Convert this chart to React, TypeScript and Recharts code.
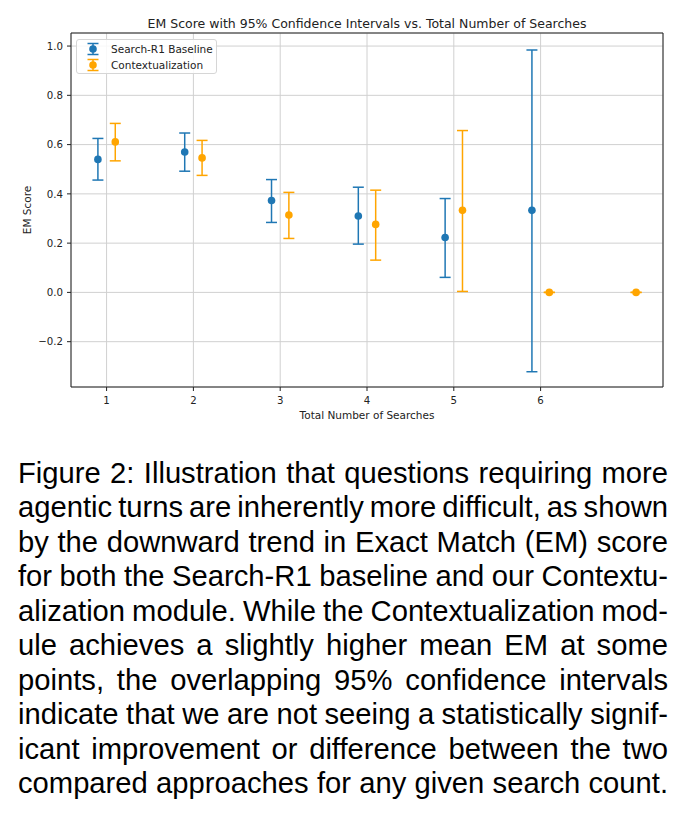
import React from 'react';
import {
  ComposedChart,
  Scatter,
  ErrorBar,
  XAxis,
  YAxis,
  CartesianGrid,
  Legend,
} from 'recharts';

// EM score per number of searches, with 95% CI bounds
const searchCounts = [1, 2, 3, 4, 5, 6, 7];
const baselineMean = [0.54, 0.57, 0.373, 0.31, 0.223, 0.333, null];
const baselineLower = [0.456, 0.492, 0.284, 0.196, 0.061, -0.322, null];
const baselineUpper = [0.625, 0.647, 0.458, 0.427, 0.381, 0.984, null];
const ctxMean = [0.611, 0.546, 0.314, 0.276, 0.333, 0, 0];
const ctxLower = [0.534, 0.475, 0.219, 0.131, 0.004, 0, 0];
const ctxUpper = [0.686, 0.617, 0.406, 0.415, 0.657, 0, 0];

const xTicks = [1, 2, 3, 4, 5, 6];
const yTicks = [-0.2, 0, 0.2, 0.4, 0.6, 0.8, 1.0];

const X_DOMAIN: [number, number] = [0.59, 7.41];
const Y_DOMAIN: [number, number] = [-0.384, 1.053];

const BLUE = '#1f77b4';
const ORANGE = '#ffa500';
const INK = '#222';
const FONT = '"DejaVu Sans", sans-serif';
const FS = 10.5;
const TICK_FS = 10.2;

const title = 'EM Score with 95% Confidence Intervals vs. Total Number of Searches';

const captionLines = [
  'Figure 2: Illustration that questions requiring more',
  'agentic turns are inherently more difficult, as shown',
  'by the downward trend in Exact Match (EM) score',
  'for both the Search-R1 baseline and our Contextu-',
  'alization module. While the Contextualization mod-',
  'ule achieves a slightly higher mean EM at some',
  'points, the overlapping 95% confidence intervals',
  'indicate that we are not seeing a statistically signif-',
  'icant improvement or difference between the two',
  'compared approaches for any given search count.',
];

type Pt = { x: number; y: number; err: [number, number] };

// dodge the two series left/right of each integer position
function buildSeries(
  mean: (number | null)[],
  lower: (number | null)[],
  upper: (number | null)[],
  shift: number
): Pt[] {
  const out: Pt[] = [];
  searchCounts.forEach((n, i) => {
    const m = mean[i];
    if (m == null) return;
    out.push({
      x: n + shift,
      y: m,
      err: [m - (lower[i] as number), (upper[i] as number) - m],
    });
  });
  return out;
}

const baselineData = buildSeries(baselineMean, baselineLower, baselineUpper, -0.1);
const ctxData = buildSeries(ctxMean, ctxLower, ctxUpper, 0.1);

const fmtY = (v: number) => {
  const s = Math.abs(v).toFixed(1);
  return v < -1e-9 ? '\u2212' + s : s;
};

const dot = (color: string) => (props: any) =>
  <circle cx={props.cx} cy={props.cy} r={3.8} fill={color} />;

const XTick = (props: any) => (
  <text x={props.x} y={props.y} dy={10} textAnchor="middle" fontSize={TICK_FS} fontFamily={FONT} fill={INK}>
    {props.payload.value}
  </text>
);

const YTick = (props: any) => (
  <text x={props.x} y={props.y} dy={3.7} textAnchor="end" fontSize={TICK_FS} fontFamily={FONT} fill={INK}>
    {fmtY(props.payload.value)}
  </text>
);

function Glyph({ color }: { color: string }) {
  return (
    <svg width={14} height={14} style={{ position: 'absolute', left: 8.5, top: -7 }}>
      <line x1={7} y1={1.5} x2={7} y2={12.5} stroke={color} strokeWidth={1.5} />
      <line x1={1.5} y1={1.5} x2={12.5} y2={1.5} stroke={color} strokeWidth={1.5} />
      <line x1={1.5} y1={12.5} x2={12.5} y2={12.5} stroke={color} strokeWidth={1.5} />
      <circle cx={7} cy={7} r={3.8} fill={color} />
    </svg>
  );
}

function LegendBox() {
  const rows = [
    { name: 'Search-R1 Baseline', color: BLUE, top: 8.5 },
    { name: 'Contextualization', color: ORANGE, top: 24.5 },
  ];
  return (
    <div
      style={{
        position: 'relative',
        width: 141,
        height: 35,
        boxSizing: 'border-box',
        border: '1px solid #d6d6d6',
        borderRadius: 3,
        background: 'rgba(255,255,255,0.85)',
        fontFamily: FONT,
        fontSize: FS,
        color: INK,
      }}
    >
      {rows.map((r) => (
        <div key={r.name} style={{ position: 'absolute', left: 0, top: r.top, height: 0 }}>
          <Glyph color={r.color} />
          <span style={{ position: 'absolute', left: 34, top: -7, whiteSpace: 'nowrap', lineHeight: '14px' }}>
            {r.name}
          </span>
        </div>
      ))}
    </div>
  );
}

export default function App() {
  return (
    <div style={{ position: 'absolute', left: 0, top: 0, width: 690, height: 827, background: '#fff' }}>
      <div
        style={{
          position: 'absolute',
          left: 71,
          width: 592,
          top: 15.5,
          textAlign: 'center',
          fontFamily: FONT,
          fontSize: 12.5,
          lineHeight: '15px',
          color: INK,
          whiteSpace: 'nowrap',
        }}
      >
        {title}
      </div>
      <div style={{ position: 'absolute', left: 0, top: 0, fontFamily: FONT }}>
        <ComposedChart
          width={690}
          height={440}
          margin={{ top: 32, right: 26, bottom: 21, left: 11 }}
        >
          <CartesianGrid stroke="#d0d0d0" strokeWidth={1} />
          <XAxis
            type="number"
            dataKey="x"
            domain={X_DOMAIN}
            ticks={xTicks}
            allowDataOverflow
            height={32}
            tickSize={4}
            tickMargin={3}
            tick={<XTick />}
            axisLine={{ stroke: INK }}
            tickLine={{ stroke: INK }}
            label={{
              value: 'Total Number of Searches',
              position: 'insideBottom',
              offset: 0,
              style: { fontSize: FS, fill: INK, fontFamily: FONT },
            }}
          />
          <XAxis
            xAxisId="top"
            orientation="top"
            type="number"
            domain={X_DOMAIN}
            height={1}
            tick={false}
            tickLine={false}
            axisLine={{ stroke: INK }}
          />
          <YAxis
            type="number"
            dataKey="y"
            domain={Y_DOMAIN}
            ticks={yTicks}
            allowDataOverflow
            width={60}
            tickSize={4}
            tickMargin={4}
            tick={<YTick />}
            axisLine={{ stroke: INK }}
            tickLine={{ stroke: INK }}
            label={{
              value: 'EM Score',
              position: 'insideLeft',
              angle: -90,
              offset: 16,
              style: { fontSize: FS, fill: INK, fontFamily: FONT, textAnchor: 'middle' },
            }}
          />
          <YAxis
            yAxisId="right"
            orientation="right"
            type="number"
            domain={Y_DOMAIN}
            width={1}
            tick={false}
            tickLine={false}
            axisLine={{ stroke: INK }}
          />
          <Legend
            layout="vertical"
            align="center"
            verticalAlign="middle"
            wrapperStyle={{ left: 76, top: 39, width: 141, height: 35 }}
            content={() => <LegendBox />}
          />
          <Scatter
            name="Search-R1 Baseline"
            data={baselineData}
            fill={BLUE}
            shape={dot(BLUE)}
            isAnimationActive={false}
          >
            <ErrorBar dataKey="err" direction="y" width={5.5} stroke={BLUE} strokeWidth={1.5} />
          </Scatter>
          <Scatter
            name="Contextualization"
            data={ctxData}
            fill={ORANGE}
            shape={dot(ORANGE)}
            isAnimationActive={false}
          >
            <ErrorBar dataKey="err" direction="y" width={5.5} stroke={ORANGE} strokeWidth={1.5} />
          </Scatter>
        </ComposedChart>
      </div>
      <div
        style={{
          position: 'absolute',
          left: 18,
          top: 455.5,
          width: 650,
          fontFamily: '"Liberation Sans", Arial, sans-serif',
          fontSize: 29.2,
          lineHeight: '34.5px',
          wordSpacing: -2.7,
          color: '#000',
        }}
      >
        {captionLines.map((line) => (
          <div
            key={line}
            style={{ textAlign: 'justify', textAlignLast: 'justify', whiteSpace: 'nowrap' }}
          >
            {line}
          </div>
        ))}
      </div>
    </div>
  );
}
